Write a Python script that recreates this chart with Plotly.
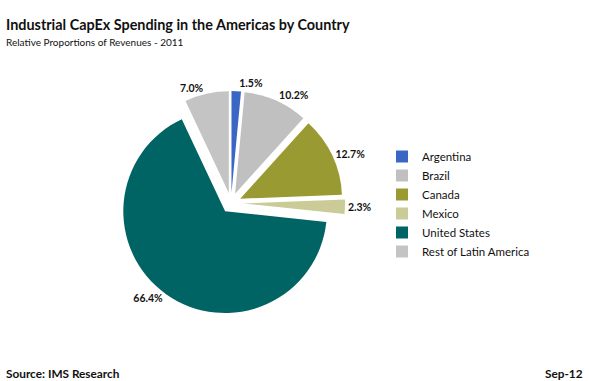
import plotly.graph_objects as go

countries = ["Argentina", "Brazil", "Canada", "Mexico", "United States", "Rest of Latin America"]
shares = [1.5, 10.2, 12.7, 2.3, 66.4, 7.0]
colors = ["#3A66C4", "#C0C0C0", "#9A9A33", "#CBCB98", "#006464", "#C4C4C4"]
pulls = [0.1, 0.1, 0.1, 0.12, 0.1, 0.1]

W, H = 589, 381
FONT = "Lato"

fig = go.Figure(go.Pie(
    labels=countries,
    values=shares,
    sort=False,
    direction="clockwise",
    rotation=0,
    pull=pulls,
    marker=dict(colors=colors, line=dict(width=0)),
    textposition="outside",
    texttemplate="<b>%{value:.1f}%</b>",
    textfont=dict(family=FONT, size=10.5, color="#111111"),
    hoverinfo="label+value",
    domain=dict(x=[117 / W, 345 / W], y=[1 - 317 / H, 1 - 89 / H]),
))

fig.update_layout(
    width=W, height=H,
    margin=dict(l=0, r=0, t=0, b=0),
    paper_bgcolor="white",
    plot_bgcolor="white",
    showlegend=True,
    legend=dict(
        x=382 / W, y=1 - 204 / H, xanchor="left", yanchor="middle",
        font=dict(family=FONT, size=11.5, color="#111111"),
        itemwidth=30, traceorder="normal",
    ),
    annotations=[
        dict(text="<b>Industrial CapEx Spending in the Americas by Country</b>",
             x=4 / W, y=1 - 24 / H, xref="paper", yref="paper",
             xanchor="left", yanchor="middle", showarrow=False,
             font=dict(family=FONT, size=14.4, color="#111111")),
        dict(text="Relative Proportions of Revenues - 2011",
             x=4 / W, y=1 - 42 / H, xref="paper", yref="paper",
             xanchor="left", yanchor="middle", showarrow=False,
             font=dict(family=FONT, size=10, color="#111111")),
        dict(text="<b>Source: IMS Research</b>",
             x=4 / W, y=1 - 373 / H, xref="paper", yref="paper",
             xanchor="left", yanchor="middle", showarrow=False,
             font=dict(family=FONT, size=11.8, color="#111111")),
        dict(text="<b>Sep-12</b>",
             x=585 / W, y=1 - 373 / H, xref="paper", yref="paper",
             xanchor="right", yanchor="middle", showarrow=False,
             font=dict(family=FONT, size=11.8, color="#111111")),
    ],
)

post = (
    "document.body.style.margin='0';"
    "var s=document.createElement('style');"
    "s.textContent='path.textline{display:none}';"
    "document.head.appendChild(s);"
)
fig.write_html("out.html", post_script=post, config={"displayModeBar": False})
